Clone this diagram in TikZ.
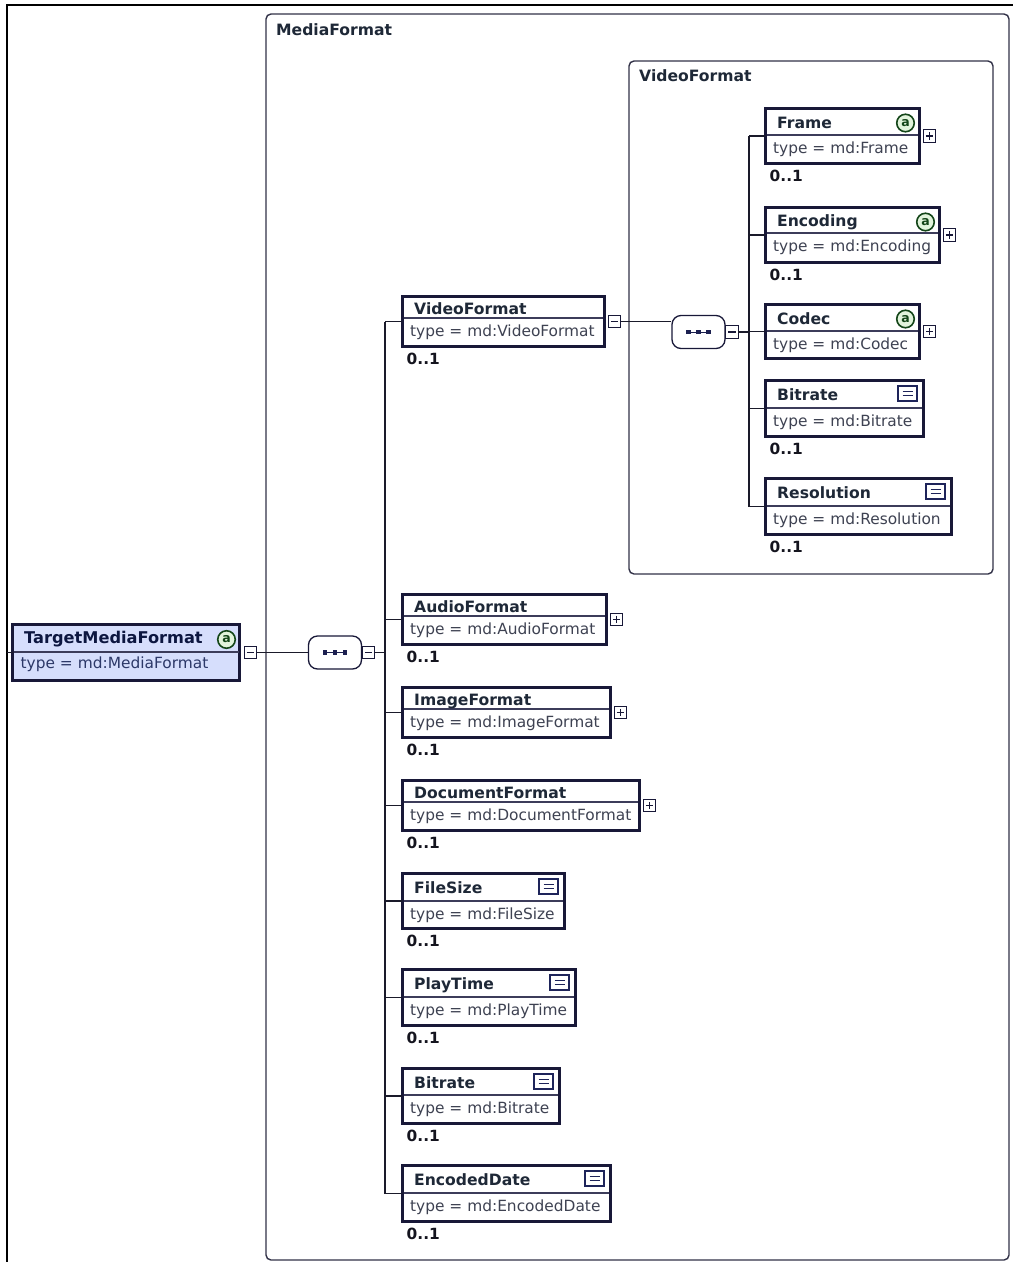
\documentclass[tikz,border=0pt]{standalone}
\usepackage{fontspec}
\setmainfont{DejaVu Sans}
\usetikzlibrary{calc}

\definecolor{boxline}{RGB}{24,24,56}
\definecolor{sepc}{RGB}{60,60,90}
\definecolor{titlec}{RGB}{30,40,55}
\definecolor{typec}{RGB}{62,66,82}
\definecolor{cardc}{RGB}{20,20,30}
\definecolor{connc}{RGB}{26,26,42}
\definecolor{attrc}{RGB}{20,70,25}
\definecolor{attrfill}{RGB}{226,244,220}
\definecolor{iconc}{RGB}{30,36,90}
\definecolor{groupc}{RGB}{50,50,72}
\definecolor{tmffill}{RGB}{214,222,252}
\definecolor{tmftitle}{RGB}{12,22,64}
\definecolor{tmftype}{RGB}{44,56,104}
\definecolor{dotc}{RGB}{28,32,80}

\tikzset{
  elembox/.style={draw=boxline, line width=2.6pt, fill=white, inner sep=0pt, outer sep=0pt, anchor=north west},
  sepline/.style={draw=sepc, line width=1.2pt},
  titletext/.style={anchor=base west, inner sep=0pt, text=titlec, font=\fontsize{15.6}{18}\selectfont\bfseries},
  typetext/.style={anchor=base west, inner sep=0pt, text=typec, font=\fontsize{15.4}{18}\selectfont},
  cardtext/.style={anchor=base west, inner sep=0pt, text=cardc, font=\fontsize{15.4}{18}\selectfont\bfseries},
  expbox/.style={draw=boxline, line width=1.1pt, fill=white, minimum size=12.5pt, inner sep=0pt, outer sep=0pt},
  expsign/.style={draw=boxline, line width=1.1pt},
  conn/.style={draw=connc, line width=1.3pt},
  attrmark/.style={circle, draw=attrc, line width=1.6pt, fill=attrfill, minimum size=17.5pt, inner sep=0pt, text=attrc, font=\fontsize{12.5}{12.5}\selectfont\bfseries},
  simplemark/.style={draw=iconc, line width=1.5pt, fill=white, minimum width=19pt, minimum height=15pt, inner sep=0pt},
  seqbox/.style={draw=boxline, line width=1.3pt, rounded corners=9pt, fill=white, minimum width=53pt, minimum height=33pt, inner sep=0pt},
  groupbox/.style={draw=groupc, line width=1.4pt, rounded corners=5pt},
  grouplabel/.style={anchor=base west, inner sep=0pt, text=titlec, font=\fontsize{15.6}{18}\selectfont\bfseries},
}

% element box: name, left, top, width, height, header height, title, type
\newcommand\xelem[8]{%
  \node[elembox, minimum width=#4pt-2.6pt, minimum height=#5pt-2.6pt] (#1) at (#2+1.3,#3+1.3) {};
  \draw[sepline] (#2+2.6,#3+#6) -- (#2+#4-2.6,#3+#6);
  \node[titletext] (#1-t) at (#2+13,#3+0.4*#6+10) {#7};
  \node[typetext] (#1-y) at (#2+9,#3+#6+18.5) {type = #8};
}
% expand / collapse buttons
\newcommand\xplus[1]{%
  \node[expbox] (#1-x) at ($(#1.east)+(9.8,0)$) {};
  \draw[expsign] ($(#1-x)+(-3.6,0)$) -- ($(#1-x)+(3.6,0)$) ($(#1-x)+(0,-3.6)$) -- ($(#1-x)+(0,3.6)$);
}
\newcommand\xminus[1]{%
  \node[expbox] (#1-x) at ($(#1.east)+(9.8,0)$) {};
  \draw[expsign] ($(#1-x)+(-3.6,0)$) -- ($(#1-x)+(3.6,0)$);
}
% attribute marker and simple-type marker
\newcommand\xattr[1]{\node[attrmark] (#1-a) at ($(#1.north east)+(-14.2,14.7)$) {a};}
\newcommand\xsimple[1]{%
  \node[simplemark] (#1-s) at ($(#1.north east)+(-16.2,13.2)$) {};
  \draw[draw=iconc, line width=1.3pt] ($(#1-s)+(-5,-2.3)$) -- ($(#1-s)+(5,-2.3)$) ($(#1-s)+(-5,2.3)$) -- ($(#1-s)+(5,2.3)$);
}
% occurrence label
\newcommand\xcard[1]{\node[cardtext] (#1-c) at ($(#1.south west)+(4.2,17.7)$) {0..1};}
% sequence compositor dots
\newcommand\xseqdots[1]{%
  \draw[draw=dotc, line width=0.8pt] ($(#1)+(-10,0)$) -- ($(#1)+(10,0)$);
  \foreach \d in {-10,0,10} \fill[dotc] ($(#1)+(\d,0)+(-2.2,-2.2)$) rectangle ($(#1)+(\d,0)+(2.2,2.2)$);
}

\begin{document}
\begin{tikzpicture}[x=1pt,y=-1pt]
\useasboundingbox (0,0) rectangle (1013,1262);
\fill[white] (0,0) rectangle (1013,1262);

% outer frame
\draw[line width=1.6pt, black] (7,1262) -- (7,5) -- (1013,5);

% complex type groups
\draw[groupbox] (266,14) rectangle (1009,1260);
\node[grouplabel] (mfgroup) at (276,35) {MediaFormat};
\draw[groupbox] (629,61) rectangle (993,574);
\node[grouplabel] (vfgroup) at (639,81.5) {VideoFormat};

% root element
\node[elembox, fill=tmffill, line width=3.4pt, minimum width=230pt-3.4pt, minimum height=59pt-3.4pt] (tmf) at (11+1.7,623+1.7) {};
\draw[sepline] (13.5,652) -- (238.5,652);
\node[anchor=base west, inner sep=0pt, text=tmftitle, font=\fontsize{16.2}{18}\selectfont\bfseries] (tmf-t) at (24,643.5) {TargetMediaFormat};
\node[anchor=base west, inner sep=0pt, text=tmftype, font=\fontsize{15.4}{18}\selectfont] (tmf-y) at (20.5,668.5) {type = md:MediaFormat};
\node[attrmark] (tmf-a) at (226.5,639.5) {a};
\node[expbox] (tmf-x) at (250.5,652.5) {};
\draw[expsign] ($(tmf-x)+(-3.6,0)$) -- ($(tmf-x)+(3.6,0)$);

% MediaFormat sequence
\node[seqbox] (seqm) at (335,652.5) {};
\xseqdots{seqm}
\node[expbox] (seqm-x) at (368.5,652.5) {};
\draw[expsign] ($(seqm-x)+(-3.6,0)$) -- ($(seqm-x)+(3.6,0)$);

% MediaFormat children
\xelem{vfm}{401}{295}{205}{53}{23}{VideoFormat}{md:VideoFormat}
\xminus{vfm}\xcard{vfm}
\xelem{afm}{401}{593}{207}{53}{23}{AudioFormat}{md:AudioFormat}
\xplus{afm}\xcard{afm}
\xelem{imf}{401}{686}{211}{53}{23}{ImageFormat}{md:ImageFormat}
\xplus{imf}\xcard{imf}
\xelem{dfm}{401}{779}{240}{53}{23}{DocumentFormat}{md:DocumentFormat}
\xplus{dfm}\xcard{dfm}
\xelem{fsz}{401}{872}{165}{58}{29}{FileSize}{md:FileSize}
\xsimple{fsz}\xcard{fsz}
\xelem{ptm}{401}{968}{176}{59}{29}{PlayTime}{md:PlayTime}
\xsimple{ptm}\xcard{ptm}
\xelem{brm}{401}{1067}{160}{58}{28}{Bitrate}{md:Bitrate}
\xsimple{brm}\xcard{brm}
\xelem{edt}{401}{1164}{211}{59}{29}{EncodedDate}{md:EncodedDate}
\xsimple{edt}\xcard{edt}

% VideoFormat sequence
\node[seqbox] (seqv) at (698.5,332) {};
\xseqdots{seqv}
\node[expbox] (seqv-x) at (732,332) {};
\draw[expsign] ($(seqv-x)+(-3.6,0)$) -- ($(seqv-x)+(3.6,0)$);

% VideoFormat children
\xelem{frm}{764}{107}{157}{58}{28}{Frame}{md:Frame}
\xattr{frm}\xplus{frm}\xcard{frm}
\xelem{enc}{764}{206}{177}{58}{27}{Encoding}{md:Encoding}
\xattr{enc}\xplus{enc}\xcard{enc}
\xelem{cdc}{764}{303}{157}{57}{28}{Codec}{md:Codec}
\xattr{cdc}\xplus{cdc}
\xelem{bir}{764}{379}{161}{59}{29}{Bitrate}{md:Bitrate}
\xsimple{bir}\xcard{bir}
\xelem{res}{764}{477}{189}{59}{29}{Resolution}{md:Resolution}
\xsimple{res}\xcard{res}

% connectors
\coordinate (frameleft) at (7,652.5);
\draw[conn] (frameleft) -- (tmf.west);
\draw[conn] (tmf-x.east) -- (seqm.west);
\coordinate (busm) at (385,652.5);
\draw[conn] (seqm-x.east) -- (busm);
\draw[conn] (vfm.west -| busm) -- (edt.west -| busm);
\foreach \n in {vfm,afm,imf,dfm,fsz,ptm,brm,edt} \draw[conn] (\n.west -| busm) -- (\n.west);

\draw[conn] (vfm-x.east) -- (vfm-x.east -| seqv.west);
\coordinate (busv) at (749,332);
\draw[conn] (seqv-x.east) -- (busv);
\draw[conn] (frm.west -| busv) -- (res.west -| busv);
\foreach \n in {frm,enc,cdc,bir,res} \draw[conn] (\n.west -| busv) -- (\n.west);
\end{tikzpicture}
\end{document}
